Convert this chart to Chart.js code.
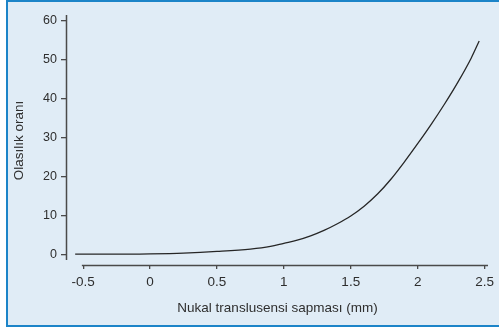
<!DOCTYPE html>
<html>
<head>
<meta charset="utf-8">
<script src="https://cdn.jsdelivr.net/npm/chart.js@4/dist/chart.umd.min.js"></script>
<style>
  html, body { margin: 0; padding: 0; background: #ffffff; overflow: hidden; }
  #frame {
    position: absolute; left: 6px; top: 0; width: 600px; height: 323px;
    background: #e0ecf6; border: 2px solid #1c84c8; border-right: none;
  }
  #wrap { position: absolute; left: 0; top: 0; width: 499px; height: 331px; }
</style>
</head>
<body>
<div id="frame"></div>
<div id="wrap"><canvas id="c" width="499" height="331"></canvas></div>
<script>
// Nuchal translucency deviation (mm) vs. likelihood ratio
const deviation = [-0.56, -0.25, 0, 0.25, 0.5, 0.75, 0.9, 1.0, 1.1, 1.2, 1.3, 1.4, 1.5, 1.6, 1.7, 1.8, 1.9, 2.0, 2.1, 2.2, 2.3, 2.4, 2.46];
const likelihood = [0.2, 0.2, 0.3, 0.5, 0.9, 1.5, 2.2, 3.0, 3.8, 4.9, 6.3, 8.0, 10.0, 12.5, 15.6, 19.4, 23.8, 28.5, 33.4, 38.6, 44.2, 50.4, 54.8];
const xTicks = [-0.5, 0, 0.5, 1, 1.5, 2, 2.5];
const yTicks = [0, 10, 20, 30, 40, 50, 60];
const xTitle = 'Nukal translusensi sapması (mm)';
const yTitle = 'Olasılık oranı';

const axisColor = '#4a4a4a';
const textColor = '#2e2e2e';
const family = '"Liberation Sans", Arial, sans-serif';

// Detached axis lines, drawn through the scales
const detachedAxes = {
  id: 'detachedAxes',
  afterDraw(chart) {
    const { ctx, scales: { x, y } } = chart;
    ctx.save();
    ctx.strokeStyle = axisColor;
    ctx.lineWidth = 1.5;
    ctx.beginPath();
    const yl = y.right - 0.5;
    ctx.moveTo(yl, y.getPixelForValue(y.max));
    ctx.lineTo(yl, y.getPixelForValue(-1.3));
    const xl = x.top - 0.5;
    ctx.moveTo(x.getPixelForValue(-0.51), xl);
    ctx.lineTo(x.getPixelForValue(x.max), xl);
    ctx.stroke();
    ctx.restore();
  }
};

new Chart(document.getElementById('c'), {
  type: 'line',
  data: {
    labels: deviation,
    datasets: [{
      data: deviation.map((v, i) => ({ x: v, y: likelihood[i] })),
      borderColor: '#262626',
      borderWidth: 1.3,
      pointRadius: 0,
      fill: false,
      cubicInterpolationMode: 'monotone'
    }]
  },
  options: {
    responsive: false,
    animation: false,
    events: [],
    layout: { padding: { left: 0, right: 10, top: 15, bottom: 0 } },
    plugins: { legend: { display: false }, tooltip: { enabled: false } },
    scales: {
      x: {
        type: 'linear',
        min: -0.621,
        max: 2.526,
        afterBuildTicks: s => { s.ticks = xTicks.map(v => ({ value: v })); },
        afterFit: s => { s.height = 65; },
        grid: { drawOnChartArea: false, drawTicks: true, tickLength: 3, tickColor: axisColor, lineWidth: 1.3 },
        border: { display: false },
        ticks: { color: textColor, font: { family, size: 13.5 }, padding: 5, maxRotation: 0, callback: v => String(v) },
        title: { display: true, text: xTitle, color: textColor, font: { family, size: 13.5 }, padding: { top: 0, bottom: 15 } }
      },
      y: {
        type: 'linear',
        min: -2.82,
        max: 61.46,
        afterBuildTicks: s => { s.ticks = yTicks.map(v => ({ value: v })); },
        afterFit: s => { s.width = 67; },
        grid: { drawOnChartArea: false, drawTicks: true, tickLength: 6, tickColor: axisColor, lineWidth: 1.3 },
        border: { display: false },
        ticks: { color: textColor, font: { family, size: 12.5 }, padding: 4, callback: v => String(v) },
        title: { display: true, text: yTitle, color: textColor, font: { family, size: 13.5 }, padding: { top: 11.5, bottom: 0 } }
      }
    }
  },
  plugins: [detachedAxes]
});
</script>
</body>
</html>
